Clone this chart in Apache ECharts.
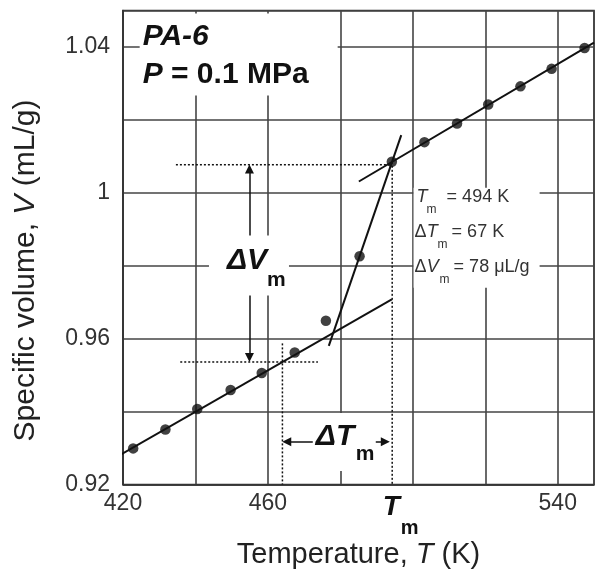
<!DOCTYPE html>
<html><head><meta charset="utf-8">
<script src="https://cdn.jsdelivr.net/npm/echarts@6/dist/echarts.min.js"></script>
<style>html,body{margin:0;padding:0;background:#fff}#c{width:597px;height:578px}</style>
</head><body><div id="c"></div>
<script>
// ---- data (T in K, V in mL/g) ----
const dotsT = [422.8, 431.7, 440.5, 449.7, 458.3, 467.4, 476.0, 485.3, 494.2, 503.2, 512.2, 520.8, 529.7, 538.3, 547.4];
const dotsV = [0.9299, 0.9351, 0.9407, 0.9459, 0.9506, 0.9562, 0.9649, 0.9826, 1.0085, 1.0139, 1.0190, 1.0242, 1.0292, 1.0340, 1.0397];
const solidFitT = [418.7, 494.2];
const solidFitV = [0.9278, 0.9708];
const meltFitT = [485.1, 550];
const meltFitV = [1.0031, 1.0412];
const transFitT = [476.8, 496.8];
const transFitV = [0.9580, 1.0158];
const upperDotT = [434.6, 494.2];
const upperDotV = [1.0077, 1.0077];
const lowerDotT = [435.8, 473.8];
const lowerDotV = [0.9536, 0.9536];
const tmDotT = [494.3, 494.3];
const tmDotV = [1.0085, 0.92];
const leftDotT = [464.0, 464.0];
const leftDotV = [0.9587, 0.92];
const dVArrowT = [454.9, 454.9];
const dVArrowV = [0.9548, 1.0065];
const dTArrowT = [465.2, 492.4];
const dTArrowV = [0.9317, 0.9317];
const xTickLabels = ['420', '460', '540'];
const yTickLabels = ['0.92', '0.96', '1', '1.04'];
const sampleName = 'PA-6';
const pressureText = ' = 0.1 MPa';
const tmText = '= 494 K';
const dTmText = '= 67 K';
const dVmText = '= 78 \u03bcL/g';
const Tm = 494;

const FF = '"Liberation Sans", Arial, Helvetica, sans-serif';
const pts = (t, v) => t.map((x, i) => [x, v[i]]);
const chart = echarts.init(document.getElementById('c'), null, {renderer: 'canvas'});

const solidLine = {color: '#111', width: 2};
const dotLine = {color: '#111', width: 1.5, type: [2, 2]};
function lineSeries(t, v, style) {
  return {type: 'line', data: pts(t, v), symbol: 'none', showSymbol: false, clip: false,
    silent: true, animation: false, lineStyle: style, z: 3};
}

chart.setOption({
  animation: false,
  backgroundColor: '#fff',
  grid: {left: 123, top: 10.5, width: 476.5, height: 474, show: true, borderColor: '#333', borderWidth: 1.6, backgroundColor: 'transparent'},
  xAxis: {
    type: 'value', min: 420, max: 550, interval: 20,
    axisLine: {show: true, lineStyle: {color: '#333', width: 1.6}},
    axisTick: {show: false},
    splitLine: {show: true, lineStyle: {color: '#444', width: 1.6}},
    axisLabel: {margin: 8, fontSize: 23, fontFamily: FF, color: '#333',
      formatter: v => { const s = String(Math.round(v)); return xTickLabels.includes(s) ? s : ''; }},
    name: '{n|Temperature, }{i|T}{n| (K)}', nameLocation: 'middle', nameGap: 56,
    nameTextStyle: {rich: {n: {fontSize: 29, fontFamily: FF, color: '#222'}, i: {fontSize: 29, fontFamily: FF, fontStyle: 'italic', color: '#222'}}}
  },
  yAxis: {
    type: 'value', min: 0.92, max: 1.05, interval: 0.02,
    axisLine: {show: true, lineStyle: {color: '#333', width: 1.6}},
    axisTick: {show: false},
    splitLine: {show: true, lineStyle: {color: '#444', width: 1.6}},
    axisLabel: {margin: 13, fontSize: 23, fontFamily: FF, color: '#333',
      formatter: v => { const s = String(+(+v).toFixed(2)); return yTickLabels.includes(s) ? s : ''; }},
    name: '{n|Specific volume, }{i|V}{n| (mL/g)}', nameLocation: 'middle', nameGap: 82,
    nameTextStyle: {padding: [0, 46, 0, 0], rich: {n: {fontSize: 30, fontFamily: FF, color: '#222'}, i: {fontSize: 30, fontFamily: FF, fontStyle: 'italic', color: '#222'}}}
  },
  series: [
    lineSeries(solidFitT, solidFitV, solidLine),
    lineSeries(meltFitT, meltFitV, solidLine),
    lineSeries(transFitT, transFitV, solidLine),
    lineSeries(upperDotT, upperDotV, dotLine),
    lineSeries(lowerDotT, lowerDotV, dotLine),
    lineSeries(tmDotT, tmDotV, dotLine),
    lineSeries(leftDotT, leftDotV, dotLine),
    {
      type: 'scatter', data: pts(dotsT, dotsV), symbol: 'circle', symbolSize: 10.5,
      itemStyle: {color: '#111'}, silent: true, z: 4, animation: false,
      markLine: {
        silent: true, animation: false, symbol: ['triangle', 'triangle'], symbolSize: 9,
        lineStyle: {color: '#111', width: 1.5, type: 'solid'}, label: {show: false},
        data: [
          [{coord: [dVArrowT[0], dVArrowV[0]]}, {coord: [dVArrowT[1], dVArrowV[1]]}],
          [{coord: [dTArrowT[0], dTArrowV[0]]}, {coord: [dTArrowT[1], dTArrowV[1]]}]
        ]
      }
    }
  ]
});

// ---- annotations anchored at data coordinates ----
const P = (t, v) => chart.convertToPixel({gridIndex: 0}, [t, v]);
function txt(x, y, text, font, fill, rich) {
  const st = {text: text, font: font, fill: fill || '#111', align: 'left', verticalAlign: 'middle',
    textAlign: 'left', textVerticalAlign: 'middle'};
  if (rich) st.rich = rich;
  return {type: 'text', x: x, y: y, z: 101, silent: true, style: st};
}
function box(w, h) {
  return {type: 'rect', shape: {x: 0, y: 0, width: w, height: h}, style: {fill: '#fff'}, z: 100, silent: true};
}
const BI30 = 'italic bold 30px ' + FF, B30 = 'bold 30px ' + FF;
const a1 = P(424.6, 1.0492), a2 = P(443.73, 0.98829), a3 = P(472.38, 0.93961),
      a4 = P(Tm, 0.92), a5 = P(500.21, 1.0014);
const AF = '18px ' + FF;
const annRich = {r: {font: AF, fill: '#333'}, i: {font: 'italic ' + AF, fill: '#333'}};
chart.setOption({graphic: [
  {type: 'group', x: a1[0], y: a1[1], children: [
    box(198, 82),
    txt(3, 23.5, sampleName, BI30),
    txt(3, 61.5, '{i|P}{n|' + pressureText + '}', B30, '#111', {i: {font: BI30, fill: '#111'}, n: {font: B30, fill: '#111'}})
  ]},
  {type: 'group', x: a2[0], y: a2[1], children: [
    box(80, 60),
    txt(18, 25.5, '\u0394V', BI30),
    txt(58, 44.6, 'm', 'bold 21px ' + FF)
  ]},
  {type: 'group', x: a3[0], y: a3[1], children: [
    box(63, 58),
    txt(3, 23.5, '\u0394T', BI30),
    txt(43, 41.6, 'm', 'bold 21px ' + FF)
  ]},
  {type: 'group', x: a4[0], y: a4[1], children: [
    txt(-8.3, 22.7, 'T', 'italic bold 28px ' + FF),
    txt(9.7, 43.5, 'm', 'bold 20px ' + FF)
  ]},
  {type: 'group', x: a5[0], y: a5[1], children: [
    box(126, 100),
    txt(3, 9, '{i|T}', AF, '#333', annRich),
    txt(13, 22, 'm', '12px ' + FF, '#333'),
    txt(33, 9, tmText, AF, '#333'),
    txt(1, 44, '{r|\u0394}{i|T}', AF, '#333', annRich),
    txt(24, 57, 'm', '12px ' + FF, '#333'),
    txt(38, 44, dTmText, AF, '#333'),
    txt(1, 79, '{r|\u0394}{i|V}', AF, '#333', annRich),
    txt(26, 92, 'm', '12px ' + FF, '#333'),
    txt(40, 79, dVmText, AF, '#333')
  ]}
]});
</script>
</body></html>
